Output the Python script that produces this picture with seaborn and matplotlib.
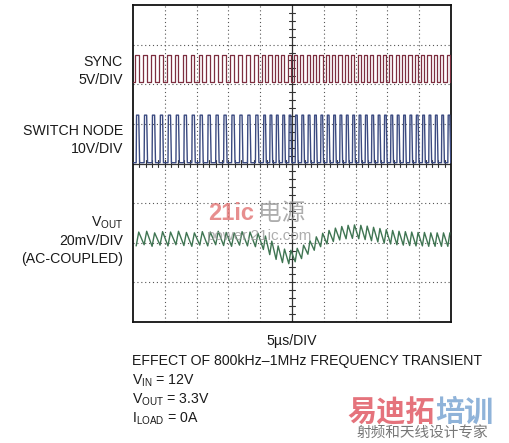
import numpy as np
import pandas as pd
import matplotlib
matplotlib.use("Agg")
import matplotlib.pyplot as plt
import seaborn as sns

sns.set_theme(style="white")
plt.rcParams['font.family'] = ['Liberation Sans', 'DejaVu Sans']

# time base: 10 div x 5us, vertical: 8 div (values in div)
# SYNC pulses (us)
sync_rise = [0.3, 1.55, 2.8, 4.05, 5.3, 6.55, 7.8, 9.05, 10.3, 11.55, 12.8, 14.05, 15.3, 16.55, 17.8, 19.05,
             20.3, 21.3, 22.3, 23.3, 24.3, 25.3, 26.3, 27.3, 28.3, 29.3, 30.3, 31.3, 32.3, 33.3, 34.3,
             35.3, 36.3, 37.3, 38.3, 39.3, 40.3, 41.3, 42.3, 43.3, 44.3, 45.3, 46.3, 47.3, 48.3, 49.3]
sync_fall = [0.9, 2.15, 3.4, 4.65, 5.9, 7.15, 8.4, 9.65, 10.9, 12.15, 13.4, 14.65, 15.9, 17.15, 18.4, 19.65,
             20.8, 21.8, 22.8, 23.8, 24.8, 25.8, 26.8, 27.8, 28.8, 29.8, 30.8, 31.8, 32.8, 33.8, 34.8,
             35.8, 36.8, 37.8, 38.8, 39.8, 40.8, 41.8, 42.8, 43.8, 44.8, 45.8, 46.8, 47.8, 48.8, 49.8]
sync_low, sync_high = 6.06, 6.74

# SWITCH NODE pulses (us)
sw_rise = [0.5, 1.75, 3.0, 4.25, 5.5, 6.75, 8.0, 9.25, 10.5, 11.75, 13.0, 14.25, 15.5, 16.75, 18.0, 19.25,
           20.5, 21.5, 22.5, 23.5, 24.5, 25.5, 26.5, 27.5, 28.5, 29.5, 30.5, 31.5, 32.5, 33.5, 34.5,
           35.5, 36.5, 37.5, 38.5, 39.5, 40.5, 41.5, 42.5, 43.5, 44.5, 45.5, 46.5, 47.5, 48.5, 49.5]
sw_fall = [0.9, 2.15, 3.4, 4.65, 5.9, 7.15, 8.4, 9.65, 10.9, 12.15, 13.4, 14.65, 15.9, 17.15, 18.4, 19.65,
           20.82, 21.82, 22.82, 23.82, 24.82, 25.82, 26.82, 27.82, 28.82, 29.82, 30.82, 31.82, 32.82, 33.82, 34.82,
           35.82, 36.82, 37.82, 38.82, 39.82, 40.82, 41.82, 42.82, 43.82, 44.82, 45.82, 46.82, 47.82, 48.82, 49.82]
sw_low, sw_high = 4.02, 5.22

# VOUT ripple: low value at each sw_rise, high value at each sw_fall (div)
vout_low = [1.92, 1.95, 1.91, 1.94, 1.92, 1.95, 1.93, 1.91, 1.94, 1.92, 1.95, 1.93, 1.91, 1.94, 1.92, 1.90,
            1.83, 1.70, 1.58, 1.50, 1.47, 1.52, 1.60, 1.71, 1.81, 1.90, 1.97, 2.03, 2.07, 2.10, 2.11,
            2.10, 2.08, 2.05, 2.02, 1.99, 1.97, 1.95, 1.94, 1.93, 1.92, 1.92, 1.91, 1.91, 1.91, 1.91]
vout_high = [2.27, 2.29, 2.25, 2.28, 2.27, 2.29, 2.26, 2.25, 2.28, 2.27, 2.29, 2.26, 2.25, 2.28, 2.27, 2.24,
             2.17, 2.04, 1.92, 1.84, 1.81, 1.86, 1.94, 2.05, 2.15, 2.24, 2.31, 2.37, 2.41, 2.44, 2.45,
             2.44, 2.42, 2.39, 2.36, 2.33, 2.31, 2.29, 2.28, 2.27, 2.26, 2.26, 2.25, 2.25, 2.25, 2.25]

def square(rise, fall, lo, hi, edge=0.0, tail=0.0):
    t, v = [0.0], [lo]
    for r, f in zip(rise, fall):
        t += [r, r + edge, f, f + tail]
        v += [lo, hi, hi, lo]
    t.append(50.0)
    v.append(lo)
    return pd.DataFrame({"t": t, "v": v})

sync_df = square(sync_rise, sync_fall, sync_low, sync_high)
sw_df = square(sw_rise, sw_fall, sw_low, sw_high, edge=0.06, tail=0.14)

vt, vv = [], []
for r, f, lo, hi in zip(sw_rise, sw_fall, vout_low, vout_high):
    vt += [r, f]
    vv += [lo, hi]
vout_df = pd.DataFrame({"t": vt, "v": vv})

fig = plt.figure(figsize=(5.10, 4.43), dpi=100)
ax = fig.add_axes([133 / 510, 121 / 443, 318 / 510, 317 / 443])

# grid
for i in range(1, 10):
    if i != 5:
        ax.axvline(i * 5, color="#555555", lw=0.8, ls=(0, (1, 2.5)), zorder=1)
for j in range(1, 8):
    if j != 4:
        ax.axhline(j, color="#555555", lw=0.8, ls=(0, (1, 2.5)), zorder=1)
ax.axvline(25, color="#333333", lw=0.9, zorder=1)
ax.axhline(4, color="#333333", lw=0.9, zorder=1)
for k in np.arange(0.2, 8, 0.2):
    ax.plot([24.55, 25.45], [k, k], color="#333333", lw=0.8, zorder=1)
for k in np.arange(1, 50, 1):
    ax.plot([k, k], [3.92, 4.08], color="#333333", lw=0.8, zorder=1)

sns.lineplot(data=sync_df, x="t", y="v", ax=ax, sort=False, estimator=None, color="#7d2f40", lw=0.9, zorder=3)
sns.lineplot(data=sw_df, x="t", y="v", ax=ax, sort=False, estimator=None, color="#3b4a80", lw=1.0, zorder=3)
sns.lineplot(data=vout_df, x="t", y="v", ax=ax, sort=False, estimator=None, color="#3f7552", lw=1.0, zorder=3)

ax.set_xlim(0, 50)
ax.set_ylim(0, 8)
ax.set_xticks([])
ax.set_yticks([])
ax.set_xlabel("")
ax.set_ylabel("")
for s in ax.spines.values():
    s.set_color("#111111")
    s.set_linewidth(1.3)

# watermark in the plot
fig.text(208 / 510, 1 - 214 / 443, "21ic", fontsize=17, fontweight="bold", color="#e06a6a", alpha=0.75,
         va="center", ha="left")
fig.text(258 / 510, 1 - 214 / 443, "电源", fontsize=17, color="#999999", alpha=0.8, va="center", ha="left",
         family=["Noto Sans CJK SC", "DejaVu Sans"])
fig.text(206 / 510, 1 - 236 / 443, "power.21ic.com", fontsize=11, color="#9a9a9a", alpha=0.8, va="center",
         ha="left")

# channel labels
fs = 10.2
def label(y, s):
    fig.text(123 / 510, 1 - y / 443, s, ha="right", va="center", fontsize=fs, color="#1a1a1a")

label(62, "SYNC")
label(80, "5V/DIV")
label(131, "SWITCH NODE")
label(149, "10V/DIV")
label(223, r"V$_{\mathregular{OUT}}$")
label(241, "20mV/DIV")
label(259, "(AC-COUPLED)")

fig.text(292 / 510, 1 - 341 / 443, "5µs/DIV", ha="center", va="center", fontsize=fs, color="#1a1a1a")
notes = [(361, "EFFECT OF 800kHz–1MHz FREQUENCY TRANSIENT"),
         (381, r"V$_{\mathregular{IN}}$ = 12V"),
         (400, r"V$_{\mathregular{OUT}}$ = 3.3V"),
         (419, r"I$_{\mathregular{LOAD}}$ = 0A")]
for y, s in notes:
    fig.text(132 / 510, 1 - y / 443, s, ha="left", va="center", fontsize=fs, color="#1a1a1a")

# corner watermark
fig.text(347 / 510, 1 - 412 / 443, "易迪拓", fontsize=21, fontweight="bold", color="#e5737c", va="center",
         ha="left", family=["Noto Sans CJK SC", "DejaVu Sans"])
fig.text(435 / 510, 1 - 412 / 443, "培训", fontsize=21, fontweight="bold", color="#8fb3d9", va="center",
         ha="left", family=["Noto Sans CJK SC", "DejaVu Sans"])
fig.text(357 / 510, 1 - 434 / 443, "射频和天线设计专家", fontsize=10.5, color="#777777", va="center", ha="left",
         family=["Noto Sans CJK SC", "DejaVu Sans"])

fig.savefig("out.png", dpi=100, facecolor="white")
